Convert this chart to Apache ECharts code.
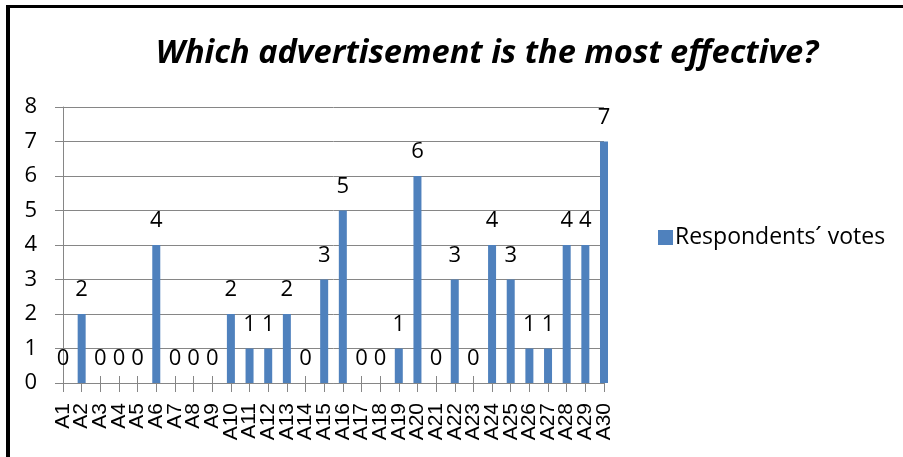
<!DOCTYPE html>
<html>
<head>
<meta charset="utf-8">
<script src="https://cdn.jsdelivr.net/npm/echarts@6/dist/echarts.min.js"></script>
<style>
  html, body { margin: 0; padding: 0; background: #ffffff; }
  #chart { width: 903px; height: 457px; }
</style>
</head>
<body>
<div id="chart"></div>
<script>
// Categories: the thirty advertisements
const categories = [
  'A1', 'A2', 'A3', 'A4', 'A5', 'A6', 'A7', 'A8', 'A9', 'A10',
  'A11', 'A12', 'A13', 'A14', 'A15', 'A16', 'A17', 'A18', 'A19', 'A20',
  'A21', 'A22', 'A23', 'A24', 'A25', 'A26', 'A27', 'A28', 'A29', 'A30'
];
// Votes received by each advertisement
const votes = [
  0, 2, 0, 0, 0, 4, 0, 0, 0, 2,
  1, 1, 2, 0, 3, 5, 0, 0, 1, 6,
  0, 3, 0, 4, 3, 1, 1, 4, 4, 7
];
const seriesName = 'Respondents\u00B4 votes';
const titleText = 'Which advertisement is the most effective?';
const yTicks = { min: 0, max: 8, interval: 1 };

const axisGray = '#868686';
const barBlue = '#4F81BD';
const textFont = '"Open Sans", "Noto Sans", sans-serif';

const chart = echarts.init(document.getElementById('chart'), null, { renderer: 'canvas' });

chart.setOption({
  backgroundColor: '#ffffff',
  animation: false,
  title: {
    text: titleText,
    left: 482,
    textAlign: 'center',
    top: 32,
    textStyle: {
      fontFamily: textFont,
      fontSize: 32.6,
      fontWeight: 'bold',
      fontStyle: 'italic',
      color: '#000000'
    }
  },
  legend: {
    data: [seriesName],
    left: 653,
    top: 221,
    itemWidth: 15,
    itemHeight: 15,
    itemGap: 6,
    icon: 'rect',
    textStyle: { fontFamily: textFont, fontSize: 23, color: '#000000', padding: [0, 0, 0, -3] }
  },
  grid: { left: 63, right: 299, top: 107, bottom: 74, containLabel: false },
  xAxis: [
    {
      type: 'category',
      data: categories,
      boundaryGap: false,
      axisLine: { show: true, lineStyle: { color: axisGray, width: 1 } },
      axisTick: { show: true, interval: 0, length: 9, lineStyle: { color: axisGray, width: 1 } },
      axisLabel: {
        interval: 0,
        rotate: 90,
        margin: 20,
        fontFamily: '"Liberation Sans", Arial, sans-serif',
        fontSize: 21,
        color: '#000000'
      },
      splitLine: { show: false }
    },
    {
      // upper half of the cross tick marks
      type: 'category',
      data: categories,
      boundaryGap: false,
      position: 'bottom',
      axisLine: { show: false },
      axisTick: { show: true, inside: true, interval: 0, length: 7, lineStyle: { color: axisGray, width: 1 } },
      axisLabel: { show: false },
      splitLine: { show: false }
    }
  ],
  yAxis: {
    type: 'value',
    min: yTicks.min,
    max: yTicks.max,
    interval: yTicks.interval,
    axisLine: { show: true, lineStyle: { color: axisGray, width: 1 } },
    axisTick: { show: true, length: 8, lineStyle: { color: axisGray, width: 1 } },
    axisLabel: {
      margin: 26,
      fontFamily: textFont,
      fontSize: 22,
      color: '#000000'
    },
    splitLine: { show: true, lineStyle: { color: axisGray, width: 1 } }
  },
  series: [
    {
      name: seriesName,
      type: 'bar',
      xAxisIndex: 0,
      data: votes,
      barWidth: 8,
      clip: false,
      itemStyle: { color: barBlue },
      label: {
        show: true,
        position: 'top',
        distance: 13,
        fontFamily: textFont,
        fontSize: 22,
        color: '#000000'
      }
    }
  ],
  graphic: [
    // chart frame: top and left edges
    { type: 'rect', shape: { x: 6, y: 5, width: 897, height: 3 }, style: { fill: '#000000' }, silent: true, z: 100 },
    { type: 'rect', shape: { x: 6, y: 5, width: 4, height: 452 }, style: { fill: '#000000' }, silent: true, z: 100 }
  ]
});
</script>
</body>
</html>
